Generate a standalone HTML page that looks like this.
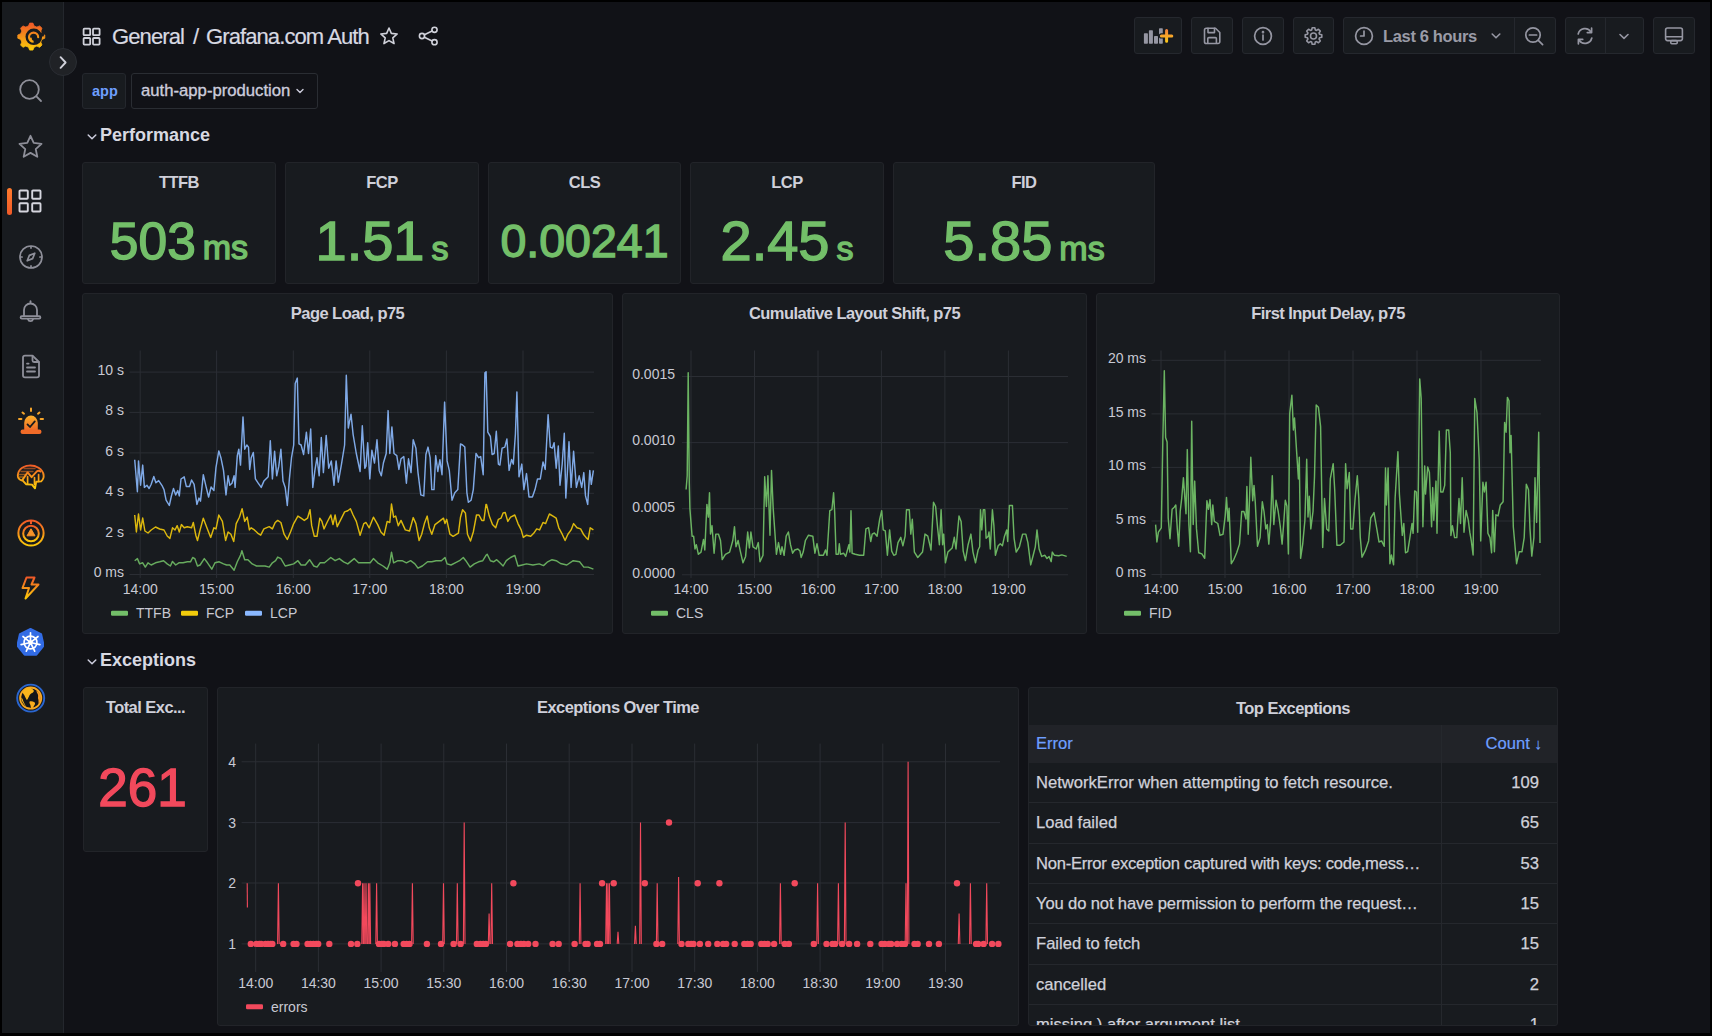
<!DOCTYPE html>
<html><head><meta charset="utf-8"><title>Grafana.com Auth - Grafana</title>
<style>
*{box-sizing:border-box;margin:0;padding:0}
html,body{width:1712px;height:1036px;overflow:hidden;background:#111217}
body{font-family:"Liberation Sans",Arial,sans-serif;color:#ccccdc;position:relative}
.abs{position:absolute}
#side{position:absolute;left:2px;top:0;width:62px;height:1036px;background:#181b1f;border-right:1px solid #24272d}
.med{-webkit-text-stroke:0.35px currentColor}
.panel{position:absolute;background:#181b1f;border:1px solid #222429;border-radius:3px;overflow:hidden}
.ptitle{position:absolute;left:0;right:0;text-align:center;font-size:16.5px;font-weight:bold;letter-spacing:-0.55px;color:#cfd0da;white-space:nowrap;-webkit-text-stroke:0 !important}
.btn{position:absolute;top:17px;height:37px;background:#181b1f;border:1px solid #25282e;border-radius:3px}
.stat{position:absolute;left:0;right:0;text-align:center;color:#73bf69;white-space:nowrap}
svg text{font-family:"Liberation Sans",Arial,sans-serif}
</style></head>
<body>
<div id="side"></div>
<svg class="abs" style="left:14px;top:18px" width="34" height="34" viewBox="0 0 34 34" ><defs><linearGradient id="lg" gradientUnits="userSpaceOnUse" x1="0" y1="6" x2="0" y2="31"><stop offset="0" stop-color="#f05a28"/><stop offset="1" stop-color="#fbca0a"/></linearGradient></defs><polygon points="14.47,7.97 15.67,5.10 18.93,5.10 20.13,7.97 22.82,9.08 25.70,7.90 28.00,10.20 26.82,13.08 27.93,15.77 30.80,16.97 30.80,20.23 27.93,21.43 26.82,24.12 28.00,27.00 25.70,29.30 22.82,28.12 20.13,29.23 18.93,32.10 15.67,32.10 14.47,29.23 11.78,28.12 8.90,29.30 6.60,27.00 7.78,24.12 6.67,21.43 3.80,20.23 3.80,16.97 6.67,15.77 7.78,13.08 6.60,10.20 8.90,7.90 11.78,9.08" fill="url(#lg)" stroke="url(#lg)" stroke-width="0.8" stroke-linejoin="round"/><circle cx="19.8" cy="18.8" r="8.3" fill="#181b1f"/><path d="M26.5 14 L30.5 16 L29.5 18.5 L27 18.5 Z" fill="#181b1f"/><path d="M24.2 19.2 A4.6 4.6 0 1 0 19.6 23.8 A3 3 0 0 1 16.8 20.6" fill="none" stroke="url(#lg)" stroke-width="2.1" stroke-linecap="round"/><circle cx="20.2" cy="19.4" r="1.5" fill="#181b1f"/></svg>
<div class="abs" style="left:49px;top:48px;width:28px;height:28px;border-radius:50%;background:#202226;border:1px solid #2a2d33"></div>
<svg class="abs" style="left:56.5px;top:54.5px" width="12" height="15" viewBox="0 0 12 15" ><g fill="none" stroke="#d0d1da" stroke-width="1.9" stroke-linecap="round" stroke-linejoin="round"><path d="M3.6 2.2 L8.6 7.5 L3.6 12.8"/></g></svg>
<svg class="abs" style="left:18px;top:78px" width="26" height="26" viewBox="0 0 26 26" ><g fill="none" stroke="#8e8f99" stroke-width="1.8" stroke-linecap="round" stroke-linejoin="round"><circle cx="11.5" cy="11.5" r="9.3"/><path d="M18.4 18.4 L23 23"/></g></svg>
<svg class="abs" style="left:17px;top:133px" width="27" height="26" viewBox="0 0 27 26" ><g fill="none" stroke="#8e8f99" stroke-width="1.8" stroke-linejoin="round"><polygon points="13.50,2.80 16.73,9.95 24.53,10.82 18.73,16.10 20.32,23.78 13.50,19.90 6.68,23.78 8.27,16.10 2.47,10.82 10.27,9.95"/></g></svg>
<div class="abs" style="left:7px;top:188px;width:5px;height:27px;border-radius:3px;background:linear-gradient(180deg,#ff7a2c,#f05a28)"></div>
<svg class="abs" style="left:18px;top:189px" width="25" height="25" viewBox="0 0 25 25" ><g fill="none" stroke="#d5d6de" stroke-width="1.9"><rect x="1.50" y="1.50" width="8.3" height="8.3" rx="0.8"/><rect x="1.50" y="14.20" width="8.3" height="8.3" rx="0.8"/><rect x="14.20" y="1.50" width="8.3" height="8.3" rx="0.8"/><rect x="14.20" y="14.20" width="8.3" height="8.3" rx="0.8"/></g></svg>
<svg class="abs" style="left:18px;top:244px" width="26" height="26" viewBox="0 0 26 26" ><g fill="none" stroke="#8e8f99" stroke-width="1.7" stroke-linecap="round" stroke-linejoin="round"><circle cx="13" cy="13" r="11"/><path d="M16.8 9.2 L14.6 14.6 L9.2 16.8 L11.4 11.4 Z"/><path d="M13 2.5v1.6M13 21.9v1.6M2.5 13h1.6M21.9 13h1.6"/></g></svg>
<svg class="abs" style="left:19px;top:299px" width="23" height="26" viewBox="0 0 23 26" ><g fill="none" stroke="#8e8f99" stroke-width="1.8" stroke-linecap="round" stroke-linejoin="round"><path d="M11.5 2.2v2"/><path d="M5 17 V11 A6.5 6.5 0 0 1 18 11 V17"/><path d="M2.8 17.2 H20.2 A1 1 0 0 1 20.2 19.6 H2.8 A1 1 0 0 1 2.8 17.2Z"/><path d="M9 20.2 A2.6 2.6 0 0 0 14 20.2"/></g></svg>
<svg class="abs" style="left:20px;top:354px" width="22" height="26" viewBox="0 0 22 26" ><g fill="none" stroke="#8e8f99" stroke-width="1.8" stroke-linecap="round" stroke-linejoin="round"><path d="M3 3.5 A2 2 0 0 1 5 1.6 H12.5 L19 8 V21.5 A2 2 0 0 1 17 23.4 H5 A2 2 0 0 1 3 21.5 Z"/><path d="M12.5 1.8 V6.5 A1.6 1.6 0 0 0 14 8 H18.6"/><path d="M7 13.5 H15 M7 17.5 H15 M7 9.6 H8.6"/></g></svg>
<svg class="abs" style="left:16px;top:406px" width="30" height="31" viewBox="0 0 30 31" ><defs><linearGradient id="og" x1="0" y1="0" x2="0" y2="1"><stop offset="0" stop-color="#fbb02a"/><stop offset="1" stop-color="#f06b28"/></linearGradient></defs><g stroke="#f6a52a" stroke-width="2" stroke-linecap="round"><path d="M15 2.5v2.6M6.5 6.5l1.5 1.2M23.5 6.5l-1.5 1.2M3 13h2.4M27 13h-2.4"/></g><path d="M8.2 24 V17 A6.8 7.4 0 0 1 21.8 17 V24 Z" fill="url(#og)"/><rect x="4.5" y="23.5" width="21" height="4.5" rx="2.2" fill="#f06b28"/><path d="M11.5 18.4 L14 21 L18.8 15.4" fill="none" stroke="#181b1f" stroke-width="1.8" stroke-linecap="round" stroke-linejoin="round"/></svg>
<svg class="abs" style="left:14px;top:460px" width="34" height="34" viewBox="0 0 34 34" ><defs><linearGradient id="mg" gradientUnits="userSpaceOnUse" x1="0" y1="5" x2="0" y2="29"><stop offset="0" stop-color="#f05a28"/><stop offset="1" stop-color="#fbd40a"/></linearGradient></defs><g fill="none" stroke="url(#mg)" stroke-linejoin="round" stroke-linecap="round"><path stroke-width="1.9" d="M4 17 C3 11 8 6 15 5.6 C22 5.2 28.6 8.6 29.6 15 C30 18 28.8 20 27 21.4 L22.2 21.8 L21 28.3 L18 24.6 L12 24.2 L9 20.8 C6.2 20.2 4.5 19 4 17 Z"/><g stroke-width="1.3" opacity="0.55"><path d="M10 8.5 H21"/><path d="M7 11.5 H19"/><path d="M5.5 14.5 H11"/><path d="M5.5 17 H9"/></g><path stroke-width="1.9" d="M8.6 19.6 L13.6 12.4 L17.6 17.2 L22.6 11.6 C24 10.5 25.5 10.6 26.5 11.5"/><path stroke-width="1.7" d="M13.6 16.5 V23.5 M20.5 17.5 V24.5 M24.6 14.5 V21.3"/></g></svg>
<svg class="abs" style="left:16px;top:518px" width="30" height="30" viewBox="0 0 30 30" ><defs><linearGradient id="cg" x1="0" y1="0" x2="0" y2="1"><stop offset="0" stop-color="#f05a28"/><stop offset="1" stop-color="#fbca0a"/></linearGradient></defs><circle cx="15" cy="15" r="12.6" fill="none" stroke="url(#cg)" stroke-width="2"/><circle cx="15" cy="15.5" r="7.8" fill="none" stroke="url(#cg)" stroke-width="2"/><path d="M15 10.8 L19 17.8 H11 Z" fill="#f6922a" stroke="#f6922a" stroke-width="1" stroke-linejoin="round"/><path d="M15 2.5 V6" stroke="#f05a28" stroke-width="2"/></svg>
<svg class="abs" style="left:19px;top:575px" width="23" height="26" viewBox="0 0 23 26" ><defs><linearGradient id="kg" x1="0" y1="0" x2="0" y2="1"><stop offset="0" stop-color="#f05a28"/><stop offset="1" stop-color="#fbca0a"/></linearGradient></defs><path d="M7.5 2.5 H15.5 L12.5 9.5 H19.5 L6.5 23.5 L10 13 H3.5 Z" fill="none" stroke="url(#kg)" stroke-width="2" stroke-linejoin="round"/></svg>
<svg class="abs" style="left:17px;top:628px" width="27" height="29" viewBox="0 0 26 28" ><polygon points="13.00,1.00 23.16,5.89 25.67,16.89 18.64,25.71 7.36,25.71 0.33,16.89 2.84,5.89" fill="#326ce5" stroke="#326ce5" stroke-width="2" stroke-linejoin="round"/><g fill="none" stroke="#ffffff" stroke-width="1.6" stroke-linecap="round"><circle cx="13" cy="14" r="6.2"/><path d="M13.00 11.80 L13.00 4.70"/><path d="M14.72 12.63 L20.27 8.20"/><path d="M15.14 14.49 L22.07 16.07"/><path d="M13.95 15.98 L17.04 22.38"/><path d="M12.05 15.98 L8.96 22.38"/><path d="M10.86 14.49 L3.93 16.07"/><path d="M11.28 12.63 L5.73 8.20"/><circle cx="13" cy="14" r="1.6" fill="#fff"/></g></svg>
<svg class="abs" style="left:14px;top:682px" width="34" height="34" viewBox="0 0 34 34" ><circle cx="16.7" cy="16.1" r="13.5" fill="none" stroke="#2a66d0" stroke-width="1.9"/><circle cx="16.7" cy="16.1" r="10.6" fill="#14161a" stroke="#f7a823" stroke-width="1.8"/><path d="M8.5 10 C10 7 13 5.6 16 5.4 C17.5 6.2 19 7.2 19.8 8.5 C20.2 10 18.5 11 17.5 11.2 C16 12 15.5 13 15 14.5 C14.2 16 13.6 17.5 12.8 18 C11.8 16.6 11 14.5 10.2 13 C9.5 12 8.6 11.3 8.5 10Z" fill="#f9b51c"/><path d="M15.6 19.6 C17 19 19 19.3 20.8 20.6 C21.5 21.8 20.6 23.2 19.8 24.2 C19.2 25.3 18.6 26.3 17.6 26.8 C16.6 25.6 16.8 24 16.2 22.6 C15.6 21.6 15.2 20.6 15.6 19.6Z" fill="#f9ad1e"/><path d="M22.5 8.6 C24.8 10 26.6 12.8 26.9 15.8 C26.8 18.5 26 20.5 24.8 22 C24.3 20.6 24.8 18.6 24.2 17 C23.6 15.6 24.6 13.6 23.8 12.2 C23.2 11 22.4 10 22.5 8.6Z" fill="#f59a22"/><path d="M7 15 C7.4 19 9.5 22.5 12.6 24.6 C10.8 22.5 9.2 19.6 8.6 17 Z" fill="#f2b21a"/></svg>
<svg class="abs" style="left:82px;top:27px" width="21" height="19" viewBox="0 0 21 19" ><g fill="none" stroke="#d0d1da" stroke-width="1.8"><rect x="1.60" y="1.60" width="6.6" height="6.6" rx="0.8"/><rect x="1.60" y="11.00" width="6.6" height="6.6" rx="0.8"/><rect x="11.00" y="1.60" width="6.6" height="6.6" rx="0.8"/><rect x="11.00" y="11.00" width="6.6" height="6.6" rx="0.8"/></g></svg>
<div class="abs" style="left:112px;top:22.5px;font-size:22px;line-height:28px;color:#d8d9e2;white-space:nowrap;letter-spacing:-0.9px;-webkit-text-stroke:0.2px #d8d9e2">General</div>
<div class="abs" style="left:193px;top:22.5px;font-size:22px;line-height:28px;color:#d8d9e2;white-space:nowrap;letter-spacing:-0.9px;-webkit-text-stroke:0.2px #d8d9e2">/</div>
<div class="abs" style="left:206px;top:22.5px;font-size:22px;line-height:28px;color:#d8d9e2;white-space:nowrap;letter-spacing:-0.9px;-webkit-text-stroke:0.2px #d8d9e2">Grafana.com Auth</div>
<svg class="abs" style="left:379px;top:26px" width="20" height="20" viewBox="0 0 20 20" ><g fill="none" stroke="#d0d1da" stroke-width="1.6" stroke-linejoin="round"><polygon points="10.00,2.00 12.35,7.36 18.18,7.94 13.80,11.84 15.05,17.56 10.00,14.60 4.95,17.56 6.20,11.84 1.82,7.94 7.65,7.36"/></g></svg>
<svg class="abs" style="left:418px;top:26px" width="21" height="20" viewBox="0 0 21 20" ><g fill="none" stroke="#d0d1da" stroke-width="1.6" stroke-linecap="round" stroke-linejoin="round"><circle cx="16.5" cy="3.8" r="2.6"/><circle cx="4" cy="10" r="2.6"/><circle cx="16.5" cy="16.2" r="2.6"/><path d="M6.4 8.8 L14.1 5 M6.4 11.2 L14.1 15"/></g></svg>
<div class="btn" style="left:1134px;width:48px"></div>
<div class="btn" style="left:1191px;width:42px"></div>
<div class="btn" style="left:1242px;width:42px"></div>
<div class="btn" style="left:1293px;width:41px"></div>
<div class="btn" style="left:1343px;width:213px"></div>
<div class="abs" style="left:1514px;top:18px;width:1px;height:35px;background:#25282e"></div>
<div class="btn" style="left:1565px;width:79px"></div>
<div class="abs" style="left:1605px;top:18px;width:1px;height:35px;background:#25282e"></div>
<div class="btn" style="left:1653px;width:42px"></div>
<svg class="abs" style="left:1143px;top:26px" width="31" height="20" viewBox="0 0 31 20" ><defs><linearGradient id="pg" gradientUnits="userSpaceOnUse" x1="0" y1="4" x2="0" y2="15.5"><stop offset="0" stop-color="#f5843a"/><stop offset="1" stop-color="#fbc51a"/></linearGradient></defs><g fill="#9596a2"><rect x="0.9" y="7.3" width="4" height="10.5" rx="0.7"/><rect x="5.9" y="4.3" width="4" height="13.5" rx="0.7"/><rect x="11" y="10" width="4" height="7.8" rx="0.7"/><rect x="16" y="2.2" width="3.8" height="15.6" rx="0.7"/></g><path d="M23.6 4.6 V15.2 M18.4 9.9 H28.8" stroke="#181b1f" stroke-width="5.2" stroke-linecap="round"/><path d="M23.6 4.6 V15.2 M18.4 9.9 H28.8" stroke="url(#pg)" stroke-width="3" stroke-linecap="round"/></svg>
<svg class="abs" style="left:1202px;top:26px" width="20" height="20" viewBox="0 0 20 20" ><g fill="none" stroke="#9596a2" stroke-width="1.6" stroke-linecap="round" stroke-linejoin="round"><path d="M2.5 4 A1.8 1.8 0 0 1 4.3 2.2 H13.5 L17.8 6.5 V15.7 A1.8 1.8 0 0 1 16 17.5 H4.3 A1.8 1.8 0 0 1 2.5 15.7 Z"/><path d="M6 2.4 V6.6 H12.5 V2.4"/><path d="M5.8 17.3 V12.6 A1 1 0 0 1 6.8 11.6 H13.4 A1 1 0 0 1 14.4 12.6 V17.3"/></g></svg>
<svg class="abs" style="left:1253px;top:26px" width="20" height="20" viewBox="0 0 20 20" ><g fill="none" stroke="#9596a2" stroke-width="1.7" stroke-linecap="round" stroke-linejoin="round"><circle cx="10" cy="10" r="8.4"/><path d="M10 9 V14"/><circle cx="10" cy="6.2" r="0.5" fill="#9d9ea8"/></g></svg>
<svg class="abs" style="left:1303px;top:26px" width="21" height="20" viewBox="0 0 21 20" ><polygon points="8.66,3.98 9.19,1.70 11.81,1.70 12.34,3.98 13.46,4.44 15.44,3.20 17.30,5.06 16.06,7.04 16.52,8.16 18.80,8.69 18.80,11.31 16.52,11.84 16.06,12.96 17.30,14.94 15.44,16.80 13.46,15.56 12.34,16.02 11.81,18.30 9.19,18.30 8.66,16.02 7.54,15.56 5.56,16.80 3.70,14.94 4.94,12.96 4.48,11.84 2.20,11.31 2.20,8.69 4.48,8.16 4.94,7.04 3.70,5.06 5.56,3.20 7.54,4.44" fill="none" stroke="#9596a2" stroke-width="1.6" stroke-linejoin="round"/><circle cx="10.5" cy="10" r="3" fill="none" stroke="#9596a2" stroke-width="1.6"/></svg>
<svg class="abs" style="left:1354px;top:26px" width="20" height="20" viewBox="0 0 20 20" ><g fill="none" stroke="#9596a2" stroke-width="1.7" stroke-linecap="round" stroke-linejoin="round"><circle cx="10" cy="10" r="8.4"/><path d="M10 5 V10 H6.6"/></g></svg>
<div class="abs" style="left:1383px;top:26.3px;font-size:16.5px;line-height:20px;letter-spacing:-0.35px;color:#9a9ba7;white-space:nowrap;font-weight:bold">Last 6 hours</div>
<svg class="abs" style="left:1489px;top:29px" width="14" height="14" viewBox="0 0 14 14" ><g fill="none" stroke="#9596a2" stroke-width="1.6" stroke-linecap="round" stroke-linejoin="round"><path d="M3.2 5 L7 8.8 L10.8 5"/></g></svg>
<svg class="abs" style="left:1524px;top:26px" width="21" height="20" viewBox="0 0 21 20" ><g fill="none" stroke="#9596a2" stroke-width="1.7" stroke-linecap="round" stroke-linejoin="round"><circle cx="9" cy="9" r="7.2"/><path d="M14.3 14.3 L18.6 18.6"/><path d="M5.4 9 H12.6"/></g></svg>
<svg class="abs" style="left:1575px;top:26px" width="20" height="20" viewBox="0 0 20 20" ><g fill="none" stroke="#9596a2" stroke-width="1.7" stroke-linecap="round" stroke-linejoin="round"><path d="M3.2 8 A7 7 0 0 1 16 6"/><path d="M16.6 2.2 V6.6 H12.3"/><path d="M16.8 12 A7 7 0 0 1 4 14"/><path d="M3.4 17.8 V13.4 H7.7"/></g></svg>
<svg class="abs" style="left:1617px;top:29px" width="14" height="14" viewBox="0 0 14 14" ><g fill="none" stroke="#9596a2" stroke-width="1.6" stroke-linecap="round" stroke-linejoin="round"><path d="M3 5.5 L7 9.3 L11 5.5"/></g></svg>
<svg class="abs" style="left:1664px;top:26px" width="20" height="20" viewBox="0 0 20 20" ><g fill="none" stroke="#9596a2" stroke-width="1.6" stroke-linecap="round" stroke-linejoin="round"><rect x="1.6" y="2" width="16.8" height="12.6" rx="2"/><path d="M1.8 10.8 H18.2"/><rect x="6.8" y="14.6" width="6.4" height="3.2" rx="1"/></g></svg>
<div class="abs" style="left:82px;top:73px;width:44px;height:36px;background:#181b1f;border:1px solid #24272d;border-radius:3px"></div>
<div class="abs" style="left:92px;top:81px;font-size:14.5px;line-height:20px;color:#6e9fff;font-weight:bold;-webkit-text-stroke:0">app</div>
<div class="abs" style="left:131px;top:73px;width:187px;height:36px;background:#111217;border:1px solid #2a2d33;border-radius:3px"></div>
<div class="abs med" style="left:141px;top:81px;font-size:16.7px;line-height:20px;color:#ccccdc;white-space:nowrap">auth-app-production</div>
<svg class="abs" style="left:294px;top:85px" width="12" height="12" viewBox="0 0 12 12" ><g fill="none" stroke="#ccccdc" stroke-width="1.4" stroke-linecap="round" stroke-linejoin="round"><path d="M3 4.5 L6 7.5 L9 4.5"/></g></svg>
<svg class="abs" style="left:85.5px;top:130.5px" width="12" height="12" viewBox="0 0 12 12" ><g fill="none" stroke="#ccccdc" stroke-width="1.5" stroke-linecap="round" stroke-linejoin="round"><path d="M2.2 4 L6 7.8 L9.8 4"/></g></svg>
<div class="abs" style="left:100px;top:124px;font-size:18px;line-height:22px;color:#d8d9e2;font-weight:bold;white-space:nowrap">Performance</div>
<svg class="abs" style="left:85.5px;top:655.5px" width="12" height="12" viewBox="0 0 12 12" ><g fill="none" stroke="#ccccdc" stroke-width="1.5" stroke-linecap="round" stroke-linejoin="round"><path d="M2.2 4 L6 7.8 L9.8 4"/></g></svg>
<div class="abs" style="left:100px;top:649px;font-size:18px;line-height:22px;color:#d8d9e2;font-weight:bold;white-space:nowrap">Exceptions</div>
<div class="panel" style="left:82px;top:162px;width:194px;height:122px"><div class="ptitle med" style="top:10px;">TTFB</div><div class="stat med" style="top:48px;font-size:51.5px;line-height:60px;font-weight:normal;-webkit-text-stroke:1.4px #73bf69">503<span style="font-size:34px;margin-left:7px">ms</span></div></div>
<div class="panel" style="left:285px;top:162px;width:194px;height:122px"><div class="ptitle med" style="top:10px;">FCP</div><div class="stat med" style="top:48px;font-size:56px;line-height:60px;font-weight:normal;-webkit-text-stroke:1.4px #73bf69">1.51<span style="font-size:34px;margin-left:7px">s</span></div></div>
<div class="panel" style="left:488px;top:162px;width:193px;height:122px"><div class="ptitle med" style="top:10px;">CLS</div><div class="stat med" style="top:48px;font-size:46.5px;line-height:60px;font-weight:normal;-webkit-text-stroke:1.4px #73bf69">0.00241</div></div>
<div class="panel" style="left:690px;top:162px;width:194px;height:122px"><div class="ptitle med" style="top:10px;">LCP</div><div class="stat med" style="top:48px;font-size:56px;line-height:60px;font-weight:normal;-webkit-text-stroke:1.4px #73bf69">2.45<span style="font-size:34px;margin-left:7px">s</span></div></div>
<div class="panel" style="left:893px;top:162px;width:262px;height:122px"><div class="ptitle med" style="top:10px;">FID</div><div class="stat med" style="top:48px;font-size:56px;line-height:60px;font-weight:normal;-webkit-text-stroke:1.4px #73bf69">5.85<span style="font-size:34px;margin-left:7px">ms</span></div></div>
<div class="panel" style="left:82px;top:293px;width:531px;height:341px"></div>
<svg class="abs" style="left:0;top:0" width="1712" height="1036" viewBox="0 0 1712 1036"><path d="M129.5 372.1 H594" stroke="#2b2e34" stroke-width="1"/><path d="M129.5 412.4 H594" stroke="#2b2e34" stroke-width="1"/><path d="M129.5 452.9 H594" stroke="#2b2e34" stroke-width="1"/><path d="M129.5 493.3 H594" stroke="#2b2e34" stroke-width="1"/><path d="M129.5 533.8 H594" stroke="#2b2e34" stroke-width="1"/><path d="M129.5 574.5 H594" stroke="#2b2e34" stroke-width="1"/><path d="M140.2 350.5 V578.0" stroke="#2b2e34" stroke-width="1"/><path d="M216.6 350.5 V578.0" stroke="#2b2e34" stroke-width="1"/><path d="M293.3 350.5 V578.0" stroke="#2b2e34" stroke-width="1"/><path d="M369.8 350.5 V578.0" stroke="#2b2e34" stroke-width="1"/><path d="M446.4 350.5 V578.0" stroke="#2b2e34" stroke-width="1"/><path d="M523.0 350.5 V578.0" stroke="#2b2e34" stroke-width="1"/><text x="124" y="374.9" text-anchor="end" font-size="14" fill="#c8c9d3">10 s</text><text x="124" y="415.2" text-anchor="end" font-size="14" fill="#c8c9d3">8 s</text><text x="124" y="455.7" text-anchor="end" font-size="14" fill="#c8c9d3">6 s</text><text x="124" y="496.1" text-anchor="end" font-size="14" fill="#c8c9d3">4 s</text><text x="124" y="536.6" text-anchor="end" font-size="14" fill="#c8c9d3">2 s</text><text x="124" y="577.3" text-anchor="end" font-size="14" fill="#c8c9d3">0 ms</text><text x="140.2" y="594" text-anchor="middle" font-size="14" fill="#c8c9d3">14:00</text><text x="216.6" y="594" text-anchor="middle" font-size="14" fill="#c8c9d3">15:00</text><text x="293.3" y="594" text-anchor="middle" font-size="14" fill="#c8c9d3">16:00</text><text x="369.8" y="594" text-anchor="middle" font-size="14" fill="#c8c9d3">17:00</text><text x="446.4" y="594" text-anchor="middle" font-size="14" fill="#c8c9d3">18:00</text><text x="523.0" y="594" text-anchor="middle" font-size="14" fill="#c8c9d3">19:00</text><path d="M134.7 459.8 L137.4 491.7 L138.5 460.9 L140.6 485.3 L142.7 465.1 L144.4 487.4 L147.0 485.3 L149.1 488.5 L151.2 484.3 L153.8 476.4 L155.9 482.8 L158.7 480.6 L161.9 485.3 L164.0 489.6 L166.1 500.2 L169.3 505.5 L171.4 496.0 L173.5 488.5 L175.7 494.9 L177.8 490.6 L179.3 495.9 L181.0 479.0 L184.2 476.8 L186.3 486.4 L189.5 486.4 L191.6 480.0 L194.1 484.3 L196.9 504.4 L199.0 498.1 L200.5 501.2 L203.3 474.7 L206.0 486.4 L208.6 497.0 L211.1 487.0 L213.9 490.6 L216.0 467.3 L218.8 450.9 L220.9 457.7 L223.5 470.4 L226.0 494.9 L228.1 475.8 L229.8 485.3 L232.0 483.2 L234.1 475.8 L235.1 487.4 L237.3 455.6 L238.8 449.2 L240.5 465.1 L243.0 416.9 L244.7 449.2 L246.8 445.0 L248.5 447.1 L249.7 469.4 L251.2 457.7 L253.3 452.4 L255.4 478.9 L258.2 483.2 L261.2 487.4 L263.9 481.1 L268.2 476.8 L270.3 440.7 L272.4 478.9 L274.6 451.3 L276.7 475.8 L278.8 466.2 L280.9 449.2 L283.0 481.1 L285.2 487.4 L287.3 505.5 L289.4 478.9 L291.5 457.7 L293.7 445.0 L295.2 383.4 L297.3 378.1 L299.0 443.9 L301.1 445.0 L303.6 454.5 L306.4 432.2 L308.5 453.5 L310.7 429.0 L312.8 487.4 L314.9 470.4 L317.0 457.7 L319.2 475.8 L321.3 437.5 L323.4 472.6 L326.2 435.4 L328.7 468.3 L331.3 460.9 L334.0 485.3 L336.1 460.9 L338.3 482.1 L341.5 464.1 L344.6 445.0 L346.3 375.3 L348.3 428.0 L351.0 414.2 L353.1 434.3 L356.3 453.5 L360.1 471.5 L362.3 425.8 L364.8 468.3 L366.0 466.2 L367.7 442.8 L369.8 478.9 L371.9 450.3 L374.5 463.0 L377.0 439.7 L379.2 470.4 L381.3 475.8 L383.4 463.0 L386.2 453.5 L388.1 410.6 L389.8 453.5 L391.9 426.9 L394.0 453.5 L396.8 455.6 L398.9 469.4 L401.0 458.8 L403.8 456.6 L406.4 483.2 L408.5 458.8 L411.0 472.6 L413.2 439.7 L415.9 448.1 L418.0 472.6 L420.8 494.9 L423.8 495.9 L425.9 454.5 L428.0 447.1 L430.1 457.7 L431.8 489.6 L434.0 489.6 L435.7 455.6 L437.8 471.5 L439.9 459.8 L442.0 474.7 L444.6 402.1 L447.1 460.9 L449.3 470.4 L452.0 500.2 L454.8 492.8 L457.8 489.6 L460.5 443.9 L462.6 445.0 L464.8 447.1 L466.9 492.8 L468.4 502.3 L471.1 500.2 L473.3 489.6 L476.0 453.5 L478.6 457.7 L480.7 456.6 L483.2 474.7 L484.9 372.7 L486.1 371.7 L487.8 432.2 L490.4 436.5 L492.1 454.5 L494.2 453.5 L496.3 431.2 L498.4 464.1 L499.9 465.1 L502.1 448.1 L504.8 447.1 L506.9 439.0 L509.1 470.4 L511.6 459.4 L513.3 464.1 L515.4 434.3 L516.9 391.9 L519.0 476.8 L521.8 464.1 L523.9 489.6 L526.5 473.6 L529.0 497.0 L532.4 497.0 L535.0 489.6 L537.5 478.9 L540.3 478.9 L543.0 462.0 L545.2 469.4 L548.1 414.8 L550.3 447.1 L552.4 448.1 L554.1 442.8 L556.2 468.3 L558.3 446.0 L560.0 485.3 L562.2 464.1 L564.3 433.3 L565.8 498.1 L567.3 473.6 L569.0 441.8 L571.1 487.4 L573.6 451.3 L576.4 487.4 L579.2 475.8 L581.7 487.4 L583.8 472.6 L585.5 495.9 L587.7 504.4 L589.8 470.4 L591.3 484.3 L593.4 470.4" fill="none" stroke="#7fa9e6" stroke-width="1.45" stroke-linejoin="round"/><path d="M134.7 515.0 L136.4 532.0 L138.5 514.0 L140.6 530.0 L142.7 518.0 L144.9 531.0 L148.0 533.0 L151.2 530.0 L155.5 527.0 L159.7 529.0 L164.0 530.0 L167.2 536.0 L169.9 538.4 L172.5 527.8 L175.0 530.0 L177.2 525.7 L179.3 532.0 L181.4 524.6 L184.2 527.8 L187.3 526.7 L191.6 527.8 L193.3 522.5 L195.8 535.2 L197.5 540.5 L200.1 529.9 L203.3 518.2 L206.9 527.8 L210.7 537.4 L213.9 527.8 L216.0 528.9 L218.8 515.0 L222.4 521.4 L225.6 540.5 L228.1 532.0 L230.9 534.2 L233.7 541.6 L236.2 523.6 L239.4 517.2 L242.1 508.7 L244.7 521.4 L247.2 517.2 L249.4 529.9 L251.2 527.8 L254.4 529.9 L257.6 533.1 L260.7 535.2 L263.9 528.9 L269.2 526.7 L272.4 528.9 L275.2 522.5 L277.7 520.4 L280.9 522.5 L284.1 534.2 L287.3 539.5 L290.5 532.0 L293.7 523.6 L297.9 516.1 L301.1 518.2 L304.3 520.4 L307.5 518.2 L310.0 509.7 L311.7 525.7 L314.3 536.3 L317.0 536.3 L319.8 518.2 L321.9 521.4 L324.0 528.9 L327.0 522.5 L330.8 515.0 L333.0 524.6 L335.1 515.0 L337.2 526.7 L341.5 518.2 L344.6 511.9 L347.8 510.8 L350.4 508.7 L353.1 515.0 L356.3 521.4 L360.1 535.2 L363.8 523.6 L366.0 522.5 L369.2 527.8 L373.4 517.2 L377.7 524.6 L380.9 532.0 L384.1 535.2 L387.2 521.4 L389.8 522.5 L391.5 504.0 L393.6 517.2 L395.7 516.1 L398.3 525.7 L401.0 520.4 L405.3 529.9 L409.5 531.0 L413.2 517.6 L415.9 523.6 L419.1 540.5 L421.7 534.2 L424.4 523.6 L427.2 516.1 L429.3 527.8 L431.8 534.2 L435.0 524.6 L439.3 521.4 L443.5 518.2 L445.0 523.6 L446.7 519.3 L449.9 534.2 L453.1 536.3 L458.4 533.1 L460.5 517.2 L462.6 509.7 L465.4 512.9 L467.5 534.2 L470.5 541.0 L473.3 532.0 L476.5 515.0 L479.0 515.0 L481.8 520.4 L483.9 520.4 L486.0 504.4 L486.5 504.4 L489.3 516.1 L492.5 524.6 L495.7 527.8 L498.4 519.3 L501.0 518.2 L503.1 512.9 L505.2 512.5 L507.8 521.4 L510.6 517.2 L514.8 515.0 L518.0 523.6 L521.2 529.9 L523.3 537.4 L526.5 535.2 L530.7 536.3 L533.9 533.1 L536.7 528.9 L539.6 529.9 L543.0 522.5 L545.6 523.6 L549.4 514.0 L553.0 516.1 L556.2 518.2 L558.8 527.8 L562.2 534.2 L565.1 540.5 L567.9 534.2 L571.1 529.9 L573.6 523.6 L577.0 527.8 L580.6 528.9 L583.4 534.2 L586.0 537.4 L588.1 539.5 L590.2 527.8 L593.4 529.9" fill="none" stroke="#dcb80e" stroke-width="1.45" stroke-linejoin="round"/><path d="M134.7 560.7 L137.4 558.6 L139.6 563.9 L142.7 562.8 L145.3 567.1 L148.0 562.8 L151.2 565.0 L155.5 562.8 L159.7 561.8 L163.6 560.7 L167.2 563.9 L170.4 566.0 L172.5 561.4 L175.7 565.0 L178.9 562.8 L183.1 562.8 L187.3 561.8 L190.5 561.8 L192.7 557.5 L194.8 558.6 L197.5 566.0 L200.1 565.0 L204.3 558.6 L207.5 562.8 L211.8 569.2 L215.0 562.8 L219.2 561.8 L223.5 563.9 L226.6 565.0 L229.8 565.0 L234.1 570.3 L237.3 561.8 L240.5 555.4 L241.9 550.7 L244.7 559.7 L247.9 559.7 L252.2 563.9 L256.5 566.0 L260.7 566.0 L265.0 566.0 L269.2 567.1 L272.4 562.8 L275.6 560.7 L277.7 557.1 L280.9 558.6 L285.2 566.0 L289.4 565.0 L293.7 563.9 L297.9 560.7 L301.1 565.0 L305.3 565.0 L309.6 559.7 L313.8 566.0 L317.0 567.1 L320.2 562.8 L324.5 562.8 L330.8 557.5 L335.1 560.7 L339.3 558.6 L343.6 561.8 L347.8 563.9 L354.2 558.6 L358.5 562.8 L363.8 562.8 L370.2 562.8 L373.4 558.6 L377.7 562.8 L383.0 566.0 L387.2 569.2 L389.8 562.8 L391.5 552.2 L393.6 562.8 L397.9 560.7 L402.1 560.7 L406.4 562.8 L410.6 560.7 L414.9 563.9 L418.0 568.2 L422.3 566.0 L427.6 561.8 L431.8 561.8 L436.1 560.7 L441.4 560.7 L445.0 557.5 L447.1 563.9 L451.0 565.0 L455.2 562.8 L459.5 560.7 L463.3 557.5 L465.8 560.7 L470.1 567.1 L474.3 563.9 L478.6 561.8 L482.8 560.7 L486.0 555.4 L487.2 554.3 L490.4 560.7 L493.6 561.8 L496.7 559.7 L499.9 562.8 L503.1 566.0 L506.3 560.7 L510.6 557.5 L514.8 555.4 L518.0 566.0 L522.2 565.0 L526.5 563.9 L532.9 565.0 L539.2 563.9 L543.5 565.6 L547.7 561.8 L552.0 559.7 L556.2 560.7 L560.5 563.5 L566.8 565.0 L573.2 560.7 L579.6 561.8 L583.8 567.1 L588.1 567.1 L593.4 569.2" fill="none" stroke="#67ab5e" stroke-width="1.45" stroke-linejoin="round"/><rect x="111" y="610.8" width="17" height="5" rx="1.2" fill="#73bf69"/><text x="136" y="618" font-size="14" fill="#c8c9d3">TTFB</text><rect x="181" y="610.8" width="17" height="5" rx="1.2" fill="#f2cc0c"/><text x="206" y="618" font-size="14" fill="#c8c9d3">FCP</text><rect x="245" y="610.8" width="17" height="5" rx="1.2" fill="#8ab8ff"/><text x="270" y="618" font-size="14" fill="#c8c9d3">LCP</text></svg>
<div class="abs ptitle med" style="left:82px;width:531px;top:303.5px">Page Load, p75</div>
<div class="panel" style="left:622px;top:293px;width:465px;height:341px"></div>
<svg class="abs" style="left:0;top:0" width="1712" height="1036" viewBox="0 0 1712 1036"><path d="M682 376.5 H1068" stroke="#2b2e34" stroke-width="1"/><path d="M682 442.6 H1068" stroke="#2b2e34" stroke-width="1"/><path d="M682 508.7 H1068" stroke="#2b2e34" stroke-width="1"/><path d="M682 574.8 H1068" stroke="#2b2e34" stroke-width="1"/><path d="M691.0 350.5 V578.0" stroke="#2b2e34" stroke-width="1"/><path d="M754.5 350.5 V578.0" stroke="#2b2e34" stroke-width="1"/><path d="M818.0 350.5 V578.0" stroke="#2b2e34" stroke-width="1"/><path d="M881.4 350.5 V578.0" stroke="#2b2e34" stroke-width="1"/><path d="M944.9 350.5 V578.0" stroke="#2b2e34" stroke-width="1"/><path d="M1008.4 350.5 V578.0" stroke="#2b2e34" stroke-width="1"/><text x="675" y="379.3" text-anchor="end" font-size="14" fill="#c8c9d3">0.0015</text><text x="675" y="445.4" text-anchor="end" font-size="14" fill="#c8c9d3">0.0010</text><text x="675" y="511.5" text-anchor="end" font-size="14" fill="#c8c9d3">0.0005</text><text x="675" y="577.6" text-anchor="end" font-size="14" fill="#c8c9d3">0.0000</text><text x="691.0" y="594" text-anchor="middle" font-size="14" fill="#c8c9d3">14:00</text><text x="754.5" y="594" text-anchor="middle" font-size="14" fill="#c8c9d3">15:00</text><text x="818.0" y="594" text-anchor="middle" font-size="14" fill="#c8c9d3">16:00</text><text x="881.4" y="594" text-anchor="middle" font-size="14" fill="#c8c9d3">17:00</text><text x="944.9" y="594" text-anchor="middle" font-size="14" fill="#c8c9d3">18:00</text><text x="1008.4" y="594" text-anchor="middle" font-size="14" fill="#c8c9d3">19:00</text><path d="M686.1 489.5 L687.2 475.7 L688.2 372.7 L689.3 483.1 L689.9 508.6 L692.1 536.2 L693.6 536.2 L695.0 549.0 L696.3 544.7 L698.4 554.3 L701.0 552.1 L703.5 539.4 L704.8 550.0 L706.9 504.4 L708.4 517.1 L709.5 492.7 L710.5 534.1 L712.0 525.6 L714.1 553.2 L715.8 534.1 L718.4 534.1 L720.5 540.5 L722.2 559.6 L725.4 554.3 L729.6 552.1 L732.8 540.5 L734.5 526.7 L736.0 546.8 L738.1 540.5 L740.3 551.1 L743.0 562.8 L745.6 556.4 L747.7 532.0 L749.4 547.9 L750.9 532.0 L753.0 546.8 L756.2 549.0 L758.3 542.6 L760.0 561.7 L763.0 555.3 L764.7 476.8 L766.4 506.5 L767.9 475.7 L770.0 535.2 L771.5 470.4 L773.2 508.6 L775.3 538.3 L776.4 554.3 L778.5 542.6 L780.6 554.3 L782.0 546.8 L784.1 555.3 L786.2 536.2 L788.4 532.0 L790.5 544.7 L792.6 553.2 L794.7 550.0 L797.9 549.0 L800.0 551.1 L801.1 557.5 L803.2 552.1 L805.4 540.5 L808.5 535.2 L812.8 536.2 L814.9 553.2 L817.0 543.7 L819.2 555.3 L823.4 555.3 L825.5 550.0 L827.0 555.3 L829.8 510.7 L831.9 509.7 L833.6 492.7 L834.7 512.9 L836.1 554.3 L838.3 554.3 L839.3 543.7 L840.4 554.3 L843.6 553.2 L845.7 556.4 L848.9 544.7 L849.9 552.1 L851.0 510.7 L852.1 553.2 L855.2 554.3 L859.5 555.3 L863.7 555.3 L865.9 528.8 L868.6 527.7 L870.7 541.5 L872.2 534.1 L874.4 533.0 L877.1 536.2 L879.7 519.2 L881.7 510.7 L883.2 529.9 L885.3 530.9 L887.4 555.3 L889.6 529.9 L891.7 551.1 L893.8 555.3 L895.9 554.3 L898.0 542.6 L900.8 537.3 L902.9 545.8 L905.1 536.2 L906.5 509.7 L909.3 509.7 L910.8 534.1 L912.3 519.2 L914.4 552.1 L917.8 557.5 L922.5 552.1 L925.0 534.1 L927.8 536.2 L931.0 550.0 L933.5 502.3 L935.6 506.5 L937.7 528.8 L939.4 544.7 L941.1 509.7 L942.6 544.7 L943.7 534.1 L945.4 562.8 L947.9 552.1 L952.2 547.9 L954.3 537.3 L956.0 549.0 L959.0 516.0 L961.1 521.4 L963.2 551.1 L965.4 560.6 L968.1 544.7 L970.9 534.1 L973.0 552.1 L975.5 562.8 L978.1 550.0 L979.7 546.8 L980.5 509.7 L981.8 529.9 L983.3 509.7 L984.8 509.7 L986.1 538.3 L988.2 536.2 L989.0 532.0 L990.3 549.0 L992.4 509.7 L993.9 525.6 L995.4 555.3 L998.2 545.8 L1000.3 543.7 L1002.4 545.8 L1004.5 536.2 L1006.7 529.9 L1007.7 541.5 L1009.4 505.4 L1012.4 505.4 L1014.1 538.3 L1016.2 552.1 L1019.4 546.8 L1022.6 534.1 L1025.8 534.1 L1027.9 542.6 L1030.7 564.9 L1033.2 555.3 L1035.3 546.8 L1037.0 529.9 L1039.1 549.0 L1041.7 556.4 L1044.9 555.3 L1047.0 558.5 L1049.1 556.4 L1051.2 561.7 L1052.3 552.1 L1054.4 555.3 L1058.7 555.8 L1061.9 554.9 L1066.7 556.4" fill="none" stroke="#6bb462" stroke-width="1.45" stroke-linejoin="round"/><rect x="651" y="610.8" width="17" height="5" rx="1.2" fill="#73bf69"/><text x="676" y="618" font-size="14" fill="#c8c9d3">CLS</text></svg>
<div class="abs ptitle med" style="left:622px;width:465px;top:303.5px">Cumulative Layout Shift, p75</div>
<div class="panel" style="left:1096px;top:293px;width:464px;height:341px"></div>
<svg class="abs" style="left:0;top:0" width="1712" height="1036" viewBox="0 0 1712 1036"><path d="M1151.5 360.3 H1541" stroke="#2b2e34" stroke-width="1"/><path d="M1151.5 413.9 H1541" stroke="#2b2e34" stroke-width="1"/><path d="M1151.5 467.4 H1541" stroke="#2b2e34" stroke-width="1"/><path d="M1151.5 521.0 H1541" stroke="#2b2e34" stroke-width="1"/><path d="M1151.5 574.5 H1541" stroke="#2b2e34" stroke-width="1"/><path d="M1161.0 350.5 V578.0" stroke="#2b2e34" stroke-width="1"/><path d="M1225.0 350.5 V578.0" stroke="#2b2e34" stroke-width="1"/><path d="M1289.0 350.5 V578.0" stroke="#2b2e34" stroke-width="1"/><path d="M1353.0 350.5 V578.0" stroke="#2b2e34" stroke-width="1"/><path d="M1417.0 350.5 V578.0" stroke="#2b2e34" stroke-width="1"/><path d="M1481.0 350.5 V578.0" stroke="#2b2e34" stroke-width="1"/><text x="1146" y="363.1" text-anchor="end" font-size="14" fill="#c8c9d3">20 ms</text><text x="1146" y="416.7" text-anchor="end" font-size="14" fill="#c8c9d3">15 ms</text><text x="1146" y="470.2" text-anchor="end" font-size="14" fill="#c8c9d3">10 ms</text><text x="1146" y="523.8" text-anchor="end" font-size="14" fill="#c8c9d3">5 ms</text><text x="1146" y="577.3" text-anchor="end" font-size="14" fill="#c8c9d3">0 ms</text><text x="1161.0" y="594" text-anchor="middle" font-size="14" fill="#c8c9d3">14:00</text><text x="1225.0" y="594" text-anchor="middle" font-size="14" fill="#c8c9d3">15:00</text><text x="1289.0" y="594" text-anchor="middle" font-size="14" fill="#c8c9d3">16:00</text><text x="1353.0" y="594" text-anchor="middle" font-size="14" fill="#c8c9d3">17:00</text><text x="1417.0" y="594" text-anchor="middle" font-size="14" fill="#c8c9d3">18:00</text><text x="1481.0" y="594" text-anchor="middle" font-size="14" fill="#c8c9d3">19:00</text><path d="M1155.6 524.6 L1156.9 542.0 L1158.4 532.2 L1161.3 527.8 L1162.8 442.0 L1164.3 370.7 L1165.6 437.6 L1167.1 442.0 L1168.2 518.0 L1170.0 538.7 L1172.1 509.3 L1174.3 507.2 L1175.8 505.0 L1177.3 528.9 L1178.7 546.3 L1180.2 511.5 L1181.7 498.5 L1183.4 477.8 L1186.0 513.7 L1187.3 449.6 L1188.9 524.6 L1190.4 551.7 L1191.7 421.3 L1193.2 524.6 L1194.7 481.1 L1196.5 528.9 L1198.7 552.8 L1201.9 553.9 L1204.7 558.3 L1206.9 500.7 L1208.4 509.3 L1210.0 499.6 L1211.7 524.6 L1212.8 505.0 L1214.3 521.3 L1217.8 523.5 L1220.0 535.4 L1223.0 534.3 L1225.2 515.9 L1226.5 497.4 L1228.0 521.3 L1229.1 508.3 L1231.3 563.7 L1233.9 559.3 L1236.7 552.8 L1239.5 544.1 L1241.7 511.5 L1243.9 511.5 L1246.0 519.1 L1246.9 486.5 L1248.2 534.3 L1249.7 494.1 L1250.8 457.2 L1252.7 500.7 L1254.0 485.4 L1255.3 502.8 L1257.5 546.3 L1260.1 537.6 L1262.3 501.7 L1264.0 511.5 L1265.8 528.9 L1267.3 524.6 L1268.8 544.1 L1270.6 521.3 L1272.3 475.7 L1273.8 524.6 L1276.0 500.2 L1278.2 511.5 L1280.3 526.7 L1282.1 544.1 L1283.6 524.6 L1285.3 500.2 L1286.9 506.1 L1288.4 553.9 L1289.7 413.7 L1291.9 395.2 L1293.4 430.0 L1294.5 418.0 L1296.7 452.8 L1298.4 478.9 L1299.3 457.2 L1300.6 558.3 L1302.7 544.1 L1304.9 520.2 L1306.7 459.3 L1308.0 517.0 L1309.3 496.3 L1310.8 528.9 L1313.0 511.5 L1314.5 476.7 L1316.2 405.0 L1318.4 407.2 L1320.6 426.7 L1322.7 547.4 L1324.5 498.5 L1326.7 528.9 L1328.8 531.1 L1330.3 478.9 L1333.2 463.7 L1334.7 489.8 L1336.9 545.2 L1340.1 545.2 L1344.0 542.0 L1345.6 463.7 L1347.1 488.7 L1349.3 472.4 L1350.7 528.9 L1352.9 528.9 L1355.1 498.5 L1357.3 475.7 L1358.8 498.5 L1360.3 537.6 L1362.0 557.2 L1365.3 550.7 L1368.6 540.9 L1370.7 518.0 L1374.0 512.6 L1376.8 528.9 L1379.0 542.0 L1381.6 540.9 L1384.2 546.3 L1385.5 468.0 L1386.4 505.0 L1388.1 468.0 L1389.9 563.7 L1391.4 555.0 L1393.6 564.8 L1395.1 498.5 L1397.9 451.7 L1399.4 494.1 L1402.3 535.4 L1403.8 523.5 L1405.5 552.8 L1407.7 551.7 L1409.9 537.6 L1412.0 523.5 L1413.1 533.3 L1414.7 490.9 L1416.4 492.0 L1417.7 532.2 L1418.6 467.0 L1419.7 378.9 L1421.2 398.5 L1422.9 526.7 L1424.7 465.9 L1425.5 494.1 L1427.7 467.0 L1429.4 472.4 L1431.6 526.7 L1432.7 487.6 L1433.8 520.2 L1436.0 481.1 L1437.0 533.3 L1439.2 431.1 L1440.7 492.0 L1442.9 492.0 L1444.7 485.4 L1446.4 430.0 L1448.7 430.0 L1450.3 452.8 L1450.9 535.4 L1452.4 525.7 L1454.6 537.6 L1456.8 537.6 L1459.0 498.5 L1460.5 523.5 L1462.2 477.8 L1464.0 532.2 L1466.1 510.4 L1468.3 520.2 L1469.8 532.2 L1471.3 540.9 L1473.1 555.0 L1474.8 398.5 L1477.0 412.6 L1479.2 459.3 L1480.7 540.9 L1482.9 482.2 L1484.4 492.0 L1486.1 482.2 L1487.9 533.3 L1490.0 537.6 L1491.6 552.8 L1492.7 510.4 L1494.4 551.7 L1495.9 514.8 L1498.1 515.9 L1500.3 505.0 L1503.1 501.7 L1504.6 422.4 L1506.1 432.2 L1507.4 397.4 L1509.0 400.7 L1510.0 452.8 L1511.1 435.4 L1513.3 526.7 L1516.6 563.7 L1519.2 551.7 L1522.0 551.7 L1524.2 537.6 L1526.3 484.3 L1528.5 489.8 L1530.0 528.9 L1531.8 556.1 L1533.9 537.6 L1535.0 477.8 L1536.6 522.4 L1538.7 432.2 L1540.0 543.0" fill="none" stroke="#6bb462" stroke-width="1.45" stroke-linejoin="round"/><rect x="1124" y="610.8" width="17" height="5" rx="1.2" fill="#73bf69"/><text x="1149" y="618" font-size="14" fill="#c8c9d3">FID</text></svg>
<div class="abs ptitle med" style="left:1096px;width:464px;top:303.5px">First Input Delay, p75</div>
<div class="panel" style="left:83px;top:687px;width:125px;height:165px"><div class="ptitle med" style="top:9.5px;">Total Exc...</div><div class="stat med" style="top:69.5px;left:-6px;font-size:53px;line-height:60px;color:#f2495c;-webkit-text-stroke:1.4px #f2495c">261</div></div>
<div class="panel" style="left:217px;top:687px;width:802px;height:339px"></div>
<svg class="abs" style="left:0;top:0" width="1712" height="1036" viewBox="0 0 1712 1036"><path d="M241.6 761.8 H1000" stroke="#2b2e34" stroke-width="1"/><path d="M241.6 822.6 H1000" stroke="#2b2e34" stroke-width="1"/><path d="M241.6 883.0 H1000" stroke="#2b2e34" stroke-width="1"/><path d="M241.6 943.9 H1000" stroke="#2b2e34" stroke-width="1"/><path d="M255.7 743.6 V972" stroke="#2b2e34" stroke-width="1"/><path d="M318.4 743.6 V972" stroke="#2b2e34" stroke-width="1"/><path d="M381.1 743.6 V972" stroke="#2b2e34" stroke-width="1"/><path d="M443.8 743.6 V972" stroke="#2b2e34" stroke-width="1"/><path d="M506.5 743.6 V972" stroke="#2b2e34" stroke-width="1"/><path d="M569.2 743.6 V972" stroke="#2b2e34" stroke-width="1"/><path d="M632.0 743.6 V972" stroke="#2b2e34" stroke-width="1"/><path d="M694.7 743.6 V972" stroke="#2b2e34" stroke-width="1"/><path d="M757.4 743.6 V972" stroke="#2b2e34" stroke-width="1"/><path d="M820.1 743.6 V972" stroke="#2b2e34" stroke-width="1"/><path d="M882.8 743.6 V972" stroke="#2b2e34" stroke-width="1"/><path d="M945.5 743.6 V972" stroke="#2b2e34" stroke-width="1"/><text x="236" y="766.8" text-anchor="end" font-size="14" fill="#c8c9d3">4</text><text x="236" y="827.6" text-anchor="end" font-size="14" fill="#c8c9d3">3</text><text x="236" y="888.0" text-anchor="end" font-size="14" fill="#c8c9d3">2</text><text x="236" y="948.9" text-anchor="end" font-size="14" fill="#c8c9d3">1</text><text x="255.7" y="988" text-anchor="middle" font-size="14" fill="#c8c9d3">14:00</text><text x="318.4" y="988" text-anchor="middle" font-size="14" fill="#c8c9d3">14:30</text><text x="381.1" y="988" text-anchor="middle" font-size="14" fill="#c8c9d3">15:00</text><text x="443.8" y="988" text-anchor="middle" font-size="14" fill="#c8c9d3">15:30</text><text x="506.5" y="988" text-anchor="middle" font-size="14" fill="#c8c9d3">16:00</text><text x="569.2" y="988" text-anchor="middle" font-size="14" fill="#c8c9d3">16:30</text><text x="632.0" y="988" text-anchor="middle" font-size="14" fill="#c8c9d3">17:00</text><text x="694.7" y="988" text-anchor="middle" font-size="14" fill="#c8c9d3">17:30</text><text x="757.4" y="988" text-anchor="middle" font-size="14" fill="#c8c9d3">18:00</text><text x="820.1" y="988" text-anchor="middle" font-size="14" fill="#c8c9d3">18:30</text><text x="882.8" y="988" text-anchor="middle" font-size="14" fill="#c8c9d3">19:00</text><text x="945.5" y="988" text-anchor="middle" font-size="14" fill="#c8c9d3">19:30</text><g fill="none" stroke="#f2495c" stroke-width="1.1"><path d="M277.6 943.9 L278.4 883.2 L279.2 943.9"/><path d="M361.8 943.9 L362.6 883.2 L363.4 943.9"/><path d="M363.2 943.9 L364.0 883.2 L364.8 943.9"/><path d="M365.2 943.9 L366.0 883.2 L366.8 943.9"/><path d="M367.6 943.9 L368.4 883.2 L369.2 943.9"/><path d="M369.0 943.9 L369.8 883.2 L370.6 943.9"/><path d="M375.8 943.9 L376.6 883.2 L377.4 943.9"/><path d="M411.6 943.9 L412.4 883.2 L413.2 943.9"/><path d="M442.7 943.9 L443.5 883.2 L444.3 943.9"/><path d="M456.5 943.9 L457.3 883.2 L458.1 943.9"/><path d="M463.4 943.9 L464.2 822.5 L465.0 943.9"/><path d="M488.3 943.9 L489.1 913.5 L489.9 943.9"/><path d="M490.9 943.9 L491.7 883.2 L492.5 943.9"/><path d="M579.3 943.9 L580.1 883.2 L580.9 943.9"/><path d="M605.7 943.9 L606.5 883.2 L607.3 943.9"/><path d="M607.1 943.9 L607.9 883.2 L608.7 943.9"/><path d="M608.6 943.9 L609.4 883.2 L610.2 943.9"/><path d="M617.2 943.9 L618.0 931.8 L618.8 943.9"/><path d="M634.6 943.9 L635.4 925.7 L636.2 943.9"/><path d="M639.7 943.9 L640.5 822.5 L641.3 943.9"/><path d="M656.4 943.9 L657.2 883.2 L658.0 943.9"/><path d="M677.8 943.9 L678.6 877.1 L679.4 943.9"/><path d="M779.6 943.9 L780.4 883.2 L781.2 943.9"/><path d="M816.8 943.9 L817.6 883.2 L818.4 943.9"/><path d="M837.6 943.9 L838.4 883.2 L839.2 943.9"/><path d="M844.4 943.9 L845.2 822.5 L846.0 943.9"/><path d="M905.2 943.9 L906.0 883.2 L906.8 943.9"/><path d="M907.3 943.9 L908.1 761.8 L908.9 943.9"/><path d="M958.3 943.9 L959.1 913.5 L959.9 943.9"/><path d="M969.6 943.9 L970.4 883.2 L971.2 943.9"/><path d="M985.9 943.9 L986.7 883.2 L987.5 943.9"/><path d="M247.2 883.2 L247.4 907.5"/></g><g fill="#f2495c"><circle cx="250.8" cy="943.9" r="3.2"/><circle cx="256.4" cy="943.9" r="3.2"/><circle cx="259.3" cy="943.9" r="3.2"/><circle cx="261.2" cy="943.9" r="3.2"/><circle cx="265.6" cy="943.9" r="3.2"/><circle cx="268" cy="943.9" r="3.2"/><circle cx="270.4" cy="943.9" r="3.2"/><circle cx="272.3" cy="943.9" r="3.2"/><circle cx="283.2" cy="943.9" r="3.2"/><circle cx="293.6" cy="943.9" r="3.2"/><circle cx="296.5" cy="943.9" r="3.2"/><circle cx="307.6" cy="943.9" r="3.2"/><circle cx="310.5" cy="943.9" r="3.2"/><circle cx="313.4" cy="943.9" r="3.2"/><circle cx="316.3" cy="943.9" r="3.2"/><circle cx="318.2" cy="943.9" r="3.2"/><circle cx="329.3" cy="943.9" r="3.2"/><circle cx="351" cy="943.9" r="3.2"/><circle cx="357.3" cy="943.9" r="3.2"/><circle cx="379" cy="943.9" r="3.2"/><circle cx="381.9" cy="943.9" r="3.2"/><circle cx="383.8" cy="943.9" r="3.2"/><circle cx="388.2" cy="943.9" r="3.2"/><circle cx="394.9" cy="943.9" r="3.2"/><circle cx="403.7" cy="943.9" r="3.2"/><circle cx="406.6" cy="943.9" r="3.2"/><circle cx="409.5" cy="943.9" r="3.2"/><circle cx="426.9" cy="943.9" r="3.2"/><circle cx="441" cy="943.9" r="3.2"/><circle cx="453.6" cy="943.9" r="3.2"/><circle cx="460.6" cy="943.9" r="3.2"/><circle cx="476.8" cy="943.9" r="3.2"/><circle cx="480.4" cy="943.9" r="3.2"/><circle cx="483.3" cy="943.9" r="3.2"/><circle cx="485.9" cy="943.9" r="3.2"/><circle cx="510.1" cy="943.9" r="3.2"/><circle cx="517.4" cy="943.9" r="3.2"/><circle cx="521" cy="943.9" r="3.2"/><circle cx="523.9" cy="943.9" r="3.2"/><circle cx="528.2" cy="943.9" r="3.2"/><circle cx="535.5" cy="943.9" r="3.2"/><circle cx="552.6" cy="943.9" r="3.2"/><circle cx="558.7" cy="943.9" r="3.2"/><circle cx="574.6" cy="943.9" r="3.2"/><circle cx="585.5" cy="943.9" r="3.2"/><circle cx="587.6" cy="943.9" r="3.2"/><circle cx="597.1" cy="943.9" r="3.2"/><circle cx="600" cy="943.9" r="3.2"/><circle cx="656.4" cy="943.9" r="3.2"/><circle cx="662.2" cy="943.9" r="3.2"/><circle cx="681.5" cy="943.9" r="3.2"/><circle cx="688.3" cy="943.9" r="3.2"/><circle cx="691.2" cy="943.9" r="3.2"/><circle cx="693.4" cy="943.9" r="3.2"/><circle cx="699.9" cy="943.9" r="3.2"/><circle cx="708.2" cy="943.9" r="3.2"/><circle cx="717.3" cy="943.9" r="3.2"/><circle cx="723.1" cy="943.9" r="3.2"/><circle cx="726.2" cy="943.9" r="3.2"/><circle cx="734.7" cy="943.9" r="3.2"/><circle cx="744.3" cy="943.9" r="3.2"/><circle cx="747.5" cy="943.9" r="3.2"/><circle cx="750.7" cy="943.9" r="3.2"/><circle cx="761.3" cy="943.9" r="3.2"/><circle cx="764.5" cy="943.9" r="3.2"/><circle cx="767.7" cy="943.9" r="3.2"/><circle cx="774.1" cy="943.9" r="3.2"/><circle cx="784.7" cy="943.9" r="3.2"/><circle cx="788.9" cy="943.9" r="3.2"/><circle cx="813.8" cy="943.9" r="3.2"/><circle cx="826.5" cy="943.9" r="3.2"/><circle cx="832.5" cy="943.9" r="3.2"/><circle cx="835" cy="943.9" r="3.2"/><circle cx="842.1" cy="943.9" r="3.2"/><circle cx="849.1" cy="943.9" r="3.2"/><circle cx="857.1" cy="943.9" r="3.2"/><circle cx="870.3" cy="943.9" r="3.2"/><circle cx="881.6" cy="943.9" r="3.2"/><circle cx="884.7" cy="943.9" r="3.2"/><circle cx="889" cy="943.9" r="3.2"/><circle cx="891.1" cy="943.9" r="3.2"/><circle cx="897.1" cy="943.9" r="3.2"/><circle cx="901.7" cy="943.9" r="3.2"/><circle cx="904.9" cy="943.9" r="3.2"/><circle cx="914.5" cy="943.9" r="3.2"/><circle cx="917.7" cy="943.9" r="3.2"/><circle cx="929" cy="943.9" r="3.2"/><circle cx="938.9" cy="943.9" r="3.2"/><circle cx="976.1" cy="943.9" r="3.2"/><circle cx="978.2" cy="943.9" r="3.2"/><circle cx="983.6" cy="943.9" r="3.2"/><circle cx="992.1" cy="943.9" r="3.2"/><circle cx="998.4" cy="943.9" r="3.2"/><circle cx="358" cy="883.2" r="3.2"/><circle cx="513.4" cy="883.2" r="3.2"/><circle cx="602.1" cy="883.2" r="3.2"/><circle cx="613.7" cy="883.2" r="3.2"/><circle cx="644.8" cy="883.2" r="3.2"/><circle cx="697.7" cy="883.2" r="3.2"/><circle cx="719.4" cy="883.2" r="3.2"/><circle cx="794.7" cy="883.2" r="3.2"/><circle cx="957" cy="883.2" r="3.2"/><circle cx="669" cy="822.5" r="3.2"/></g><rect x="246" y="1004.3" width="17" height="5" rx="1.2" fill="#f2495c"/><text x="271" y="1011.5" font-size="14" fill="#c8c9d3">errors</text></svg>
<div class="abs ptitle med" style="left:217px;width:802px;top:697.5px">Exceptions Over Time</div>
<div class="panel" style="left:1028px;top:687px;width:530px;height:339px"><div class="abs ptitle med" style="left:0;width:528px;top:10.5px">Top Exceptions</div><div class="abs" style="left:0;top:37px;width:530px;height:38px;background:#212328"></div><div class="abs" style="left:7px;top:46px;font-size:16.6px;line-height:20px;color:#6e9fff;-webkit-text-stroke:0.2px #6e9fff">Error</div><div class="abs" style="right:15px;top:46px;font-size:16.6px;line-height:20px;color:#6e9fff;white-space:nowrap;-webkit-text-stroke:0.2px #6e9fff">Count <span style="font-size:15px;font-weight:bold">&#8595;</span></div><div class="abs" style="left:412px;top:37px;width:1px;height:310px;background:#25282d"></div><div class="abs" style="left:0;top:114.3px;width:530px;height:1px;background:#25282d"></div><div class="abs med" style="left:7px;top:85.0px;font-size:16.6px;line-height:20px;letter-spacing:0px;color:#d0d1da;white-space:nowrap;-webkit-text-stroke:0.25px #d0d1da">NetworkError when attempting to fetch resource.</div><div class="abs med" style="right:18px;top:85.0px;font-size:16.6px;line-height:20px;color:#d0d1da;-webkit-text-stroke:0.25px #d0d1da">109</div><div class="abs" style="left:0;top:154.6px;width:530px;height:1px;background:#25282d"></div><div class="abs med" style="left:7px;top:125.3px;font-size:16.6px;line-height:20px;letter-spacing:0px;color:#d0d1da;white-space:nowrap;-webkit-text-stroke:0.25px #d0d1da">Load failed</div><div class="abs med" style="right:18px;top:125.3px;font-size:16.6px;line-height:20px;color:#d0d1da;-webkit-text-stroke:0.25px #d0d1da">65</div><div class="abs" style="left:0;top:194.9px;width:530px;height:1px;background:#25282d"></div><div class="abs med" style="left:7px;top:165.6px;font-size:16.6px;line-height:20px;letter-spacing:-0.25px;color:#d0d1da;white-space:nowrap;-webkit-text-stroke:0.25px #d0d1da">Non-Error exception captured with keys: code,mess…</div><div class="abs med" style="right:18px;top:165.6px;font-size:16.6px;line-height:20px;color:#d0d1da;-webkit-text-stroke:0.25px #d0d1da">53</div><div class="abs" style="left:0;top:235.2px;width:530px;height:1px;background:#25282d"></div><div class="abs med" style="left:7px;top:205.9px;font-size:16.6px;line-height:20px;letter-spacing:-0.14px;color:#d0d1da;white-space:nowrap;-webkit-text-stroke:0.25px #d0d1da">You do not have permission to perform the request…</div><div class="abs med" style="right:18px;top:205.9px;font-size:16.6px;line-height:20px;color:#d0d1da;-webkit-text-stroke:0.25px #d0d1da">15</div><div class="abs" style="left:0;top:275.5px;width:530px;height:1px;background:#25282d"></div><div class="abs med" style="left:7px;top:246.2px;font-size:16.6px;line-height:20px;letter-spacing:0px;color:#d0d1da;white-space:nowrap;-webkit-text-stroke:0.25px #d0d1da">Failed to fetch</div><div class="abs med" style="right:18px;top:246.2px;font-size:16.6px;line-height:20px;color:#d0d1da;-webkit-text-stroke:0.25px #d0d1da">15</div><div class="abs" style="left:0;top:315.8px;width:530px;height:1px;background:#25282d"></div><div class="abs med" style="left:7px;top:286.5px;font-size:16.6px;line-height:20px;letter-spacing:0px;color:#d0d1da;white-space:nowrap;-webkit-text-stroke:0.25px #d0d1da">cancelled</div><div class="abs med" style="right:18px;top:286.5px;font-size:16.6px;line-height:20px;color:#d0d1da;-webkit-text-stroke:0.25px #d0d1da">2</div><div class="abs" style="left:0;top:356.1px;width:530px;height:1px;background:#25282d"></div><div class="abs med" style="left:7px;top:326.8px;font-size:16.6px;line-height:20px;letter-spacing:0px;color:#d0d1da;white-space:nowrap;-webkit-text-stroke:0.25px #d0d1da">missing ) after argument list</div><div class="abs med" style="right:18px;top:326.8px;font-size:16.6px;line-height:20px;color:#d0d1da;-webkit-text-stroke:0.25px #d0d1da">1</div></div>
<div class="abs" style="left:0;top:0;width:1712px;height:2px;background:#000"></div>
<div class="abs" style="left:0;top:1033px;width:1712px;height:3px;background:#000"></div>
<div class="abs" style="left:0;top:0;width:2px;height:1036px;background:#000"></div>
<div class="abs" style="left:1710px;top:0;width:2px;height:1036px;background:#000"></div>
</body></html>
